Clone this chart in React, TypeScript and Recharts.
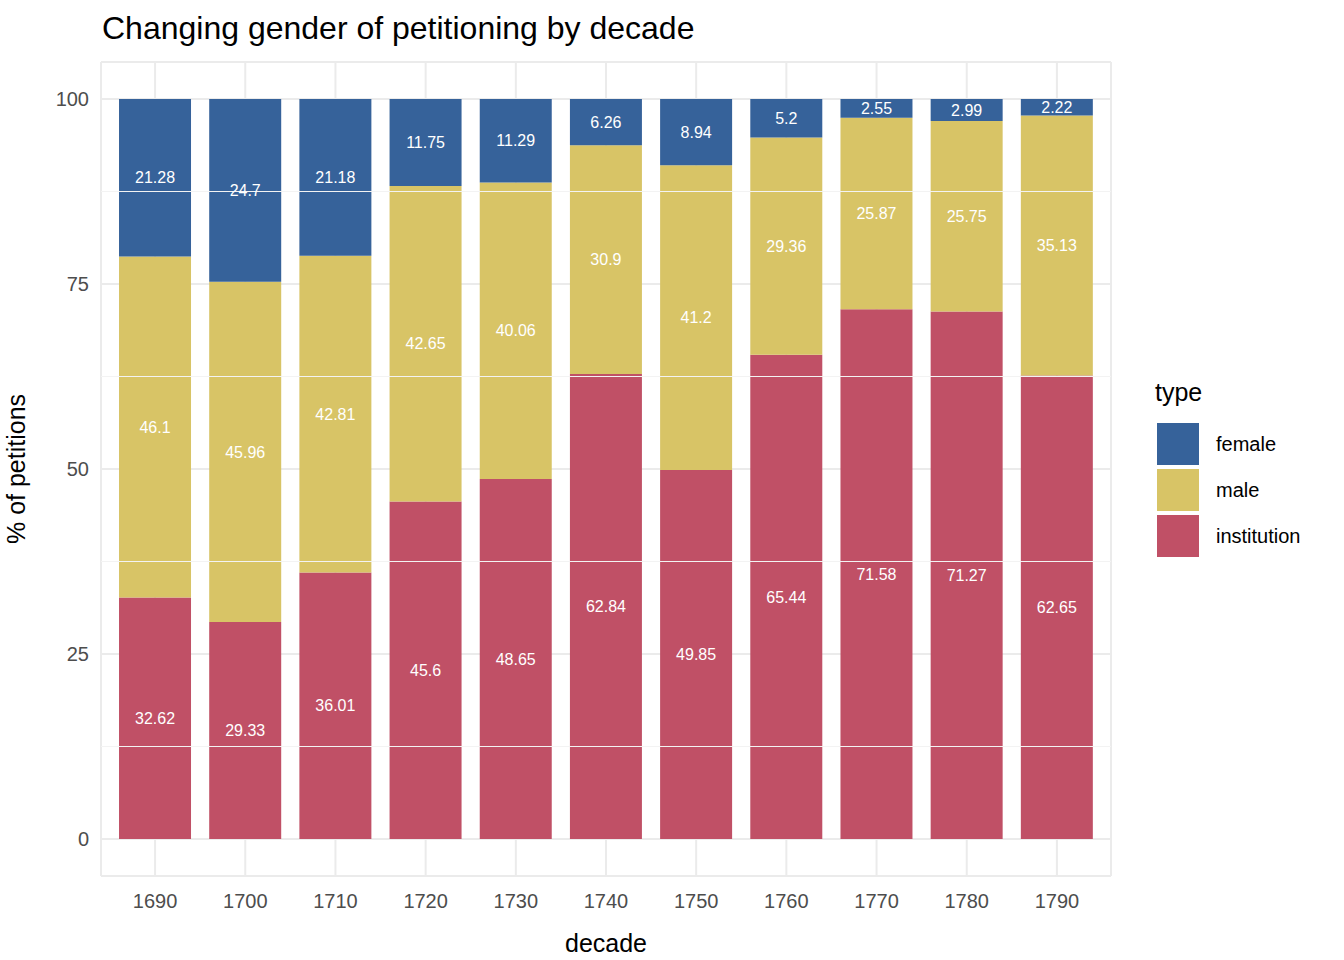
import { Bar, BarChart, CartesianGrid, LabelList, ReferenceLine, XAxis, YAxis } from "recharts";

const decades = ["1690", "1700", "1710", "1720", "1730", "1740", "1750", "1760", "1770", "1780", "1790"];
const institution = [32.62, 29.33, 36.01, 45.6, 48.65, 62.84, 49.85, 65.44, 71.58, 71.27, 62.65];
const male = [46.1, 45.96, 42.81, 42.65, 40.06, 30.9, 41.2, 29.36, 25.87, 25.75, 35.13];
const female = [21.28, 24.7, 21.18, 11.75, 11.29, 6.26, 8.94, 5.2, 2.55, 2.99, 2.22];
const yTicks = [0, 25, 50, 75, 100];
const minorTicks = [12.5, 37.5, 62.5, 87.5];

const colours = { female: "#36629A", male: "#D8C466", institution: "#C05066" };
const FONT = "'Liberation Sans', Arial, sans-serif";

const data = decades.map((d, i) => ({
  decade: d,
  institution: institution[i],
  male: male[i],
  female: female[i],
}));

const labelStyle = { fill: "#ffffff", fontSize: 16, fontFamily: FONT };

export default function App() {
  return (
    <div style={{ position: "absolute", left: 0, top: 0, width: 1344, height: 960, background: "#fff", fontFamily: FONT }}>
      <div style={{ position: "absolute", left: 102, top: 10, fontSize: 32, color: "#000" }}>
        Changing gender of petitioning by decade
      </div>
      <BarChart
        width={1344}
        height={960}
        data={data}
        margin={{ top: 62, right: 233, bottom: 0, left: 0 }}
        barCategoryGap="10%"
      >
        <CartesianGrid stroke="#EBEBEB" strokeWidth={2} />
        {minorTicks.map((t) => (
          <ReferenceLine key={t} y={t} stroke="#F3F3F3" strokeWidth={1} />
        ))}
        <XAxis
          dataKey="decade"
          axisLine={false}
          tickLine={false}
          height={84}
          tickMargin={12}
          padding={{ left: 9, right: 9 }}
          tick={{ fontSize: 20, fill: "#4D4D4D", fontFamily: FONT }}
          label={{ value: "decade", position: "insideBottom", offset: 8, fontSize: 25, fill: "#000", fontFamily: FONT }}
        />
        <YAxis
          type="number"
          domain={[-5, 105]}
          ticks={yTicks}
          axisLine={false}
          tickLine={false}
          width={101}
          tickMargin={6}
          tick={{ fontSize: 20, fill: "#4D4D4D", fontFamily: FONT }}
          label={{ value: "% of petitions", angle: -90, position: "insideLeft", offset: 16, dy: 0, fontSize: 25, fill: "#000", fontFamily: FONT, style: { textAnchor: "middle" } }}
        />
        <Bar dataKey="institution" stackId="a" fill={colours.institution} isAnimationActive={false}>
          <LabelList dataKey="institution" position="center" style={labelStyle} />
        </Bar>
        <Bar dataKey="male" stackId="a" fill={colours.male} isAnimationActive={false}>
          <LabelList dataKey="male" position="center" style={labelStyle} />
        </Bar>
        <Bar dataKey="female" stackId="a" fill={colours.female} isAnimationActive={false}>
          <LabelList dataKey="female" position="center" style={labelStyle} />
        </Bar>
      </BarChart>
      <div style={{ position: "absolute", left: 1155, top: 378, fontSize: 25, color: "#000" }}>type</div>
      {(["female", "male", "institution"] as const).map((k, i) => (
        <div key={k} style={{ position: "absolute", left: 1157, top: 423 + i * 46, display: "flex", alignItems: "center" }}>
          <div style={{ width: 42, height: 42, background: colours[k] }} />
          <span style={{ marginLeft: 17, fontSize: 20, color: "#000" }}>{k}</span>
        </div>
      ))}
    </div>
  );
}
